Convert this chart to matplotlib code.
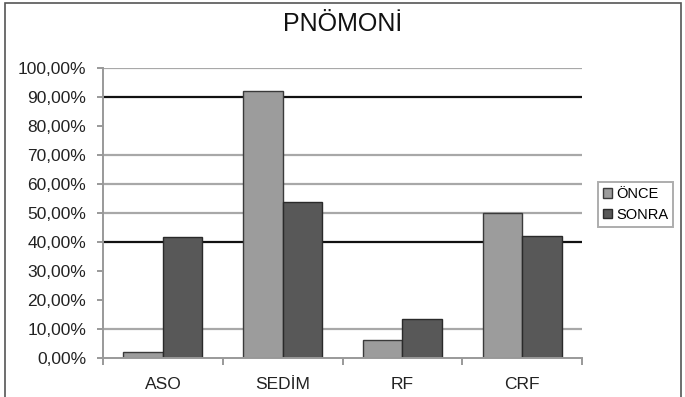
import matplotlib
matplotlib.use("Agg")
import matplotlib.pyplot as plt
from matplotlib.patches import Rectangle
import numpy as np

# Veriler
categories = ["ASO", "SEDİM", "RF", "CRF"]
once = [0.02, 0.92, 0.062, 0.50]
sonra = [0.417, 0.537, 0.135, 0.42]
series_names = ["ÖNCE", "SONRA"]
yticks = [0.0, 0.1, 0.2, 0.3, 0.4, 0.5, 0.6, 0.7, 0.8, 0.9, 1.0]
ytick_labels = ["0,00%", "10,00%", "20,00%", "30,00%", "40,00%", "50,00%",
                "60,00%", "70,00%", "80,00%", "90,00%", "100,00%"]
grid_gray = [0.1, 0.5, 0.6, 0.7, 1.0]
grid_black = [0.4, 0.9]

plt.rcParams['font.family'] = ['Liberation Sans', 'DejaVu Sans']

fig = plt.figure(figsize=(6.85, 3.97), dpi=100)
# cerceve
fig.patches.append(Rectangle((5 / 685, -0.05), 676 / 685, 1.05 - 3 / 397,
                             transform=fig.transFigure, fill=False,
                             edgecolor="#555555", linewidth=1.2))

ax = fig.add_axes([103 / 685, 1 - 358 / 397, 479 / 685, 290 / 397])

x = np.arange(len(categories))
w = 0.33
for g in grid_gray:
    ax.axhline(g, color="#a8a8a8", linewidth=1.6, zorder=1)
for g in grid_black:
    ax.axhline(g, color="#111111", linewidth=1.6, zorder=1)

ax.bar(x - w / 2, once, w, color="#9c9c9c", edgecolor="#3a3a3a",
       linewidth=1.0, label=series_names[0], zorder=2)
ax.bar(x + w / 2, sonra, w, color="#585858", edgecolor="#2a2a2a",
       linewidth=1.0, label=series_names[1], zorder=2)

ax.set_xlim(-0.5, len(categories) - 0.5)
ax.set_ylim(0, 1.0)
ax.set_yticks(yticks)
ax.set_yticklabels(ytick_labels, fontsize=12.5, color="#222222")
ax.set_xticks(x)
ax.set_xticklabels(categories, fontsize=12.5, color="#222222")
ax.tick_params(axis="x", length=0, pad=14)
ax.set_xticks(np.arange(len(categories) + 1) - 0.5, minor=True)
ax.tick_params(axis="x", which="minor", length=5, color="#888888", width=1.2)
ax.tick_params(axis="y", length=4, color="#888888", width=1.2, pad=8)

for s in ["top", "right"]:
    ax.spines[s].set_visible(False)
ax.spines["left"].set_color("#999999")
ax.spines["left"].set_linewidth(1.4)
ax.spines["bottom"].set_color("#999999")
ax.spines["bottom"].set_linewidth(1.4)

fig.text(0.5, 1 - 24 / 397, "PNÖMONİ", ha="center", va="center",
         fontsize=18, color="#111111")

leg = ax.legend(loc="center left", bbox_to_anchor=(1.018, 0.53), frameon=True,
                fancybox=False, edgecolor="#999999", fontsize=10.5,
                handlelength=0.6, handleheight=0.6, handletextpad=0.3,
                borderpad=0.35, labelspacing=0.45)
leg.get_frame().set_linewidth(1.4)

fig.savefig("out.png", dpi=100)
